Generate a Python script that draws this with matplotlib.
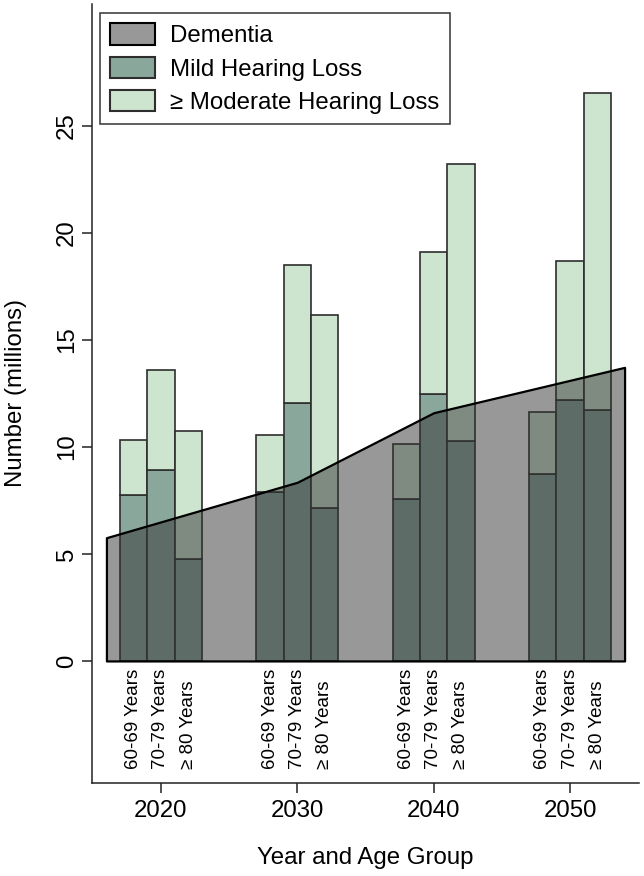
import matplotlib
matplotlib.use("Agg")
import matplotlib.pyplot as plt
from matplotlib.patches import Patch

plt.rcParams['font.family'] = ['Liberation Sans', 'DejaVu Sans']

# ---- data ----
years = [2020, 2030, 2040, 2050]
age_groups = ["60-69 Years", "70-79 Years", "\u2265 80 Years"]
# mild hearing loss (millions), per year, per age group
mild = [
    [7.76, 8.93, 4.75],
    [7.91, 12.07, 7.14],
    [7.56, 12.46, 10.28],
    [8.74, 12.20, 11.73],
]
# >= moderate hearing loss (millions)
moderate = [
    [2.57, 4.67, 6.00],
    [2.65, 6.43, 9.03],
    [2.57, 6.67, 12.94],
    [2.91, 6.51, 14.80],
]
# dementia area vertices
dementia_x = [2016, 2030, 2040, 2054]
dementia = [5.76, 8.35, 11.60, 13.72]

legend_labels = ["Dementia", "Mild Hearing Loss", "\u2265 Moderate Hearing Loss"]
y_ticks = [0, 5, 10, 15, 20, 25]

# ---- style ----
W, H = 644, 876
fig = plt.figure(figsize=(W / 100, H / 100), dpi=100)
ax = fig.add_axes([91.7 / W, 1 - 782.7 / H, (639.3 - 91.7) / W, (782.7 - 4) / H])

c_mild = "#8aa79c"
c_mod = "#cde4cf"
c_edge = "#2e2e2e"
c_dem = (0.2, 0.2, 0.2, 0.5)
fs = 17.3

offsets = [-2, 0, 2]
bar_w = 2.0
for gi, yr in enumerate(years):
    for ai, off in enumerate(offsets):
        x = yr + off
        ax.bar(x, mild[gi][ai], width=bar_w, color=c_mild, edgecolor=c_edge,
               linewidth=1.2, zorder=2)
        ax.bar(x, moderate[gi][ai], width=bar_w, bottom=mild[gi][ai], color=c_mod,
               edgecolor=c_edge, linewidth=1.2, zorder=2)
        ax.text(x, -5.05, age_groups[ai], rotation=90, ha='center', va='bottom',
                fontsize=13.5, color='black', clip_on=False)

ax.fill_between(dementia_x, 0, dementia, facecolor=c_dem, edgecolor='black',
                linewidth=1.6, zorder=3)

ax.set_xlim(2014.92, 2055.08)
ax.set_ylim(-5.69, 30.7)
ax.set_xticks(years)
ax.set_xticklabels([str(y) for y in years])
ax.set_yticks(y_ticks)
ax.set_yticklabels([str(v) for v in y_ticks])

for s in ['top', 'right']:
    ax.spines[s].set_visible(False)
for s in ['left', 'bottom']:
    ax.spines[s].set_linewidth(1.1)
    ax.spines[s].set_color('#222222')

ax.tick_params(axis='x', length=7.2, width=1.1, pad=5.5, labelsize=fs, color='#222222')
ax.tick_params(axis='y', length=7.2, width=1.1, pad=2.5, labelsize=fs, color='#222222',
               labelrotation=90)
for lab in ax.get_yticklabels():
    lab.set_va('center')

fig.text(16 / W, 1 - 393 / H, "Number (millions)", rotation=90, ha='center', va='center',
         fontsize=fs)
fig.text(365.5 / W, 1 - 858 / H, "Year and Age Group", ha='center', va='center', fontsize=fs)

handles = [
    Patch(facecolor=c_dem, edgecolor='black', linewidth=1.5),
    Patch(facecolor=c_mild, edgecolor=c_edge, linewidth=1.5),
    Patch(facecolor=c_mod, edgecolor=c_edge, linewidth=1.5),
]
leg = ax.legend(handles, legend_labels, loc='upper left',
                bbox_to_anchor=(100 / W, 1 - 13.3 / H), bbox_transform=fig.transFigure,
                borderaxespad=0, fontsize=fs, frameon=True, fancybox=False,
                handlelength=1.88, handleheight=0.98, handletextpad=0.62,
                labelspacing=0.40, borderpad=0.42)
leg.get_frame().set_edgecolor('#333333')
leg.get_frame().set_linewidth(1.1)
leg.get_frame().set_alpha(1)

fig.savefig("out.png", dpi=100)
